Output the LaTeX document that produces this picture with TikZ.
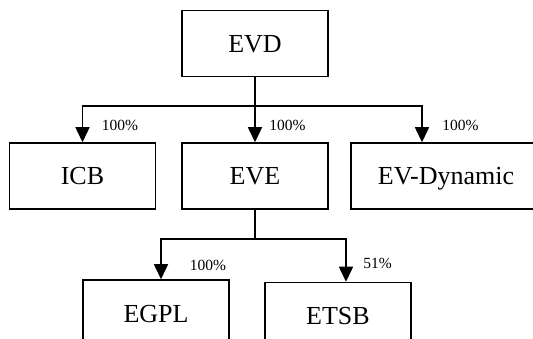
\documentclass[tikz,border=0pt]{standalone}
\usepackage{fontspec}
\setmainfont{Liberation Serif}
\usetikzlibrary{arrows.meta}
\tikzset{
  unitbox/.style={draw,line width=1.5pt,minimum width=146pt,minimum height=66pt,inner sep=0pt,
    text height=24pt,text depth=6pt,font=\fontsize{26}{30}\selectfont},
  share/.style={font=\fontsize{15.5}{18}\selectfont,inner sep=0pt},
  owns/.style={line width=1.5pt,-{Triangle[width=14pt,length=15pt]}}
}

\begin{document}
\begin{tikzpicture}[x=1pt,y=-1pt]
\useasboundingbox (0,0) rectangle (533,339);
\clip (0,0) rectangle (533,339);
%% companies
\node[unitbox] (evd) at (255,43.5) {EVD};
\node[unitbox] (icb) at (82.5,176) {ICB};
\node[unitbox] (eve) at (255,176) {EVE};
\node[unitbox,minimum width=190pt] (evdyn) at (446,176) {EV-Dynamic};
\node[unitbox] (egpl) at (156,313) {EGPL};
\node[unitbox] (etsb) at (338,315.5) {ETSB};

%% ownership bars
\coordinate (bar1) at (255,106);
\coordinate (bar2) at (255,239);
\draw[line width=1.5pt] (evd.south) -- (bar1);
\draw[line width=1.5pt] (eve.south) -- (bar2);
\foreach \sub/\dx in {icb/0, eve/0, evdyn/-24}
    \draw[owns] (bar1) -| ([xshift=\dx pt]\sub.north);
\foreach \sub/\dx in {egpl/5, etsb/8}
    \draw[owns] (bar2) -| ([xshift=\dx pt]\sub.north);

%% percentages
\node[share] (picb) at (120,125) {100\%};
\node[share] (peve) at (287.5,125) {100\%};
\node[share] (pdyn) at (460.5,125) {100\%};
\node[share] (pegpl) at (208,265) {100\%};
\node[share] (petsb) at (377.5,263) {51\%};
\end{tikzpicture}
\end{document}
